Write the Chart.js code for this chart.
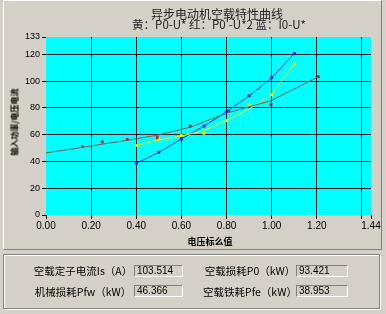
<!DOCTYPE html>
<html lang="zh">
<head>
<meta charset="UTF-8" />
<title>异步电动机空载特性曲线</title>
<script src="https://cdn.jsdelivr.net/npm/chart.js"></script>
<style>
  body { margin: 0; width: 386px; height: 314px; background: #d4d0c8; position: relative; overflow: hidden;
         font-family: "Noto Sans CJK SC", sans-serif; color: #000; }
  .abs { position: absolute; white-space: nowrap; }
  .upper { left: 3px; top: 0; width: 377px; height: 248px; border: 1px solid; border-color: #fff #808080 #808080 #fff; }
  .lower { left: 3px; top: 254px; width: 375px; height: 53px; border: 1px solid #808080; box-shadow: inset 1px 1px 0 #fff, 1px 1px 0 #fff; }
  #chart { position: absolute; left: 0; top: 0; }
  .title { left: 117px; width: 200px; top: 8px; line-height: 12px; font-size: 12px; text-align: center; color: #222; }
  .sub { left: 109px; width: 220px; top: 18px; line-height: 12px; font-size: 11.5px; text-align: center; color: #222; }
  .ytitle { left: 14px; top: 122px; font-size: 8px; font-weight: bold; transform: translate(-50%, -50%) rotate(-90deg); }
  .xtitle { left: 210px; top: 241px; font-size: 9px; font-weight: bold; transform: translate(-50%, -50%); }
  .lbl { font-size: 10.5px; line-height: 12px; text-align: center; width: 120px; }
  .box { height: 10px; border: 1px solid; border-color: #808080 #fff #fff #808080; font-family: "Liberation Sans", sans-serif;
         font-size: 10px; line-height: 10px; padding-left: 2px; }
</style>
</head>
<body>
<div class="abs upper"></div>
<canvas id="chart" width="386" height="250"></canvas>
<div class="abs title">异步电动机空载特性曲线</div>
<div class="abs sub">黄：P0-U* 红：P0'-U*2 蓝：I0-U*</div>
<div class="abs ytitle">输入功率/电压电流</div>
<div class="abs xtitle">电压标么值</div>

<div class="abs lower"></div>
<div class="abs lbl" style="left:23px;top:265px">空载定子电流Is（A）</div>
<div class="abs box" style="left:134px;top:265px;width:45px">103.514</div>
<div class="abs lbl" style="left:190px;top:265px">空载损耗P0（kW）</div>
<div class="abs box" style="left:296px;top:265px;width:48px">93.421</div>
<div class="abs lbl" style="left:23px;top:286px">机械损耗Pfw（kW）</div>
<div class="abs box" style="left:134px;top:285px;width:45px">46.366</div>
<div class="abs lbl" style="left:190px;top:286px">空载铁耗Pfe（kW）</div>
<div class="abs box" style="left:296px;top:285px;width:48px">38.953</div>

<script>
  // axis ticks
  const xTicks = [0, 0.2, 0.4, 0.6, 0.8, 1.0, 1.2, 1.4, 1.44];
  const xTickLabels = ["0.00", "0.20", "0.40", "0.60", "0.80", "1.00", "1.20", "", "1.44"];
  const yTicks = [0, 20, 40, 60, 80, 100, 120, 133];

  // 红: P0'-U*2 (measured points + fitted line)
  const uRed = [0.161, 0.249, 0.36, 0.493, 0.639, 0.809, 0.997, 1.207];
  const p0Red = [51.1, 54.6, 56.4, 57.9, 66.4, 77.6, 82.6, 103.3];
  const uRedFit = [0, 0.161, 0.249, 0.36, 0.493, 0.639, 0.809, 0.997, 1.207];
  const p0RedFit = [46.4, 50.5, 52.9, 55.8, 59.6, 65.6, 76.6, 85.4, 103.3];

  // 黄: P0-U*
  const uYellow = [0.40, 0.50, 0.60, 0.70, 0.80, 0.90, 1.00, 1.10];
  const p0Yellow = [51.9, 56.8, 59.4, 61.0, 70.4, 82.2, 89.8, 113.0];
  const p0YellowFit = [51.9, 56.0, 59.2, 63.3, 71.0, 79.2, 91.0, 113.0];

  // 蓝: I0-U*
  const uBlue = [0.40, 0.50, 0.60, 0.70, 0.80, 0.90, 1.00, 1.10];
  const i0Blue = [38.7, 46.9, 56.9, 66.5, 77.3, 89.1, 102.8, 120.7];

  const pts = (xs, ys) => xs.map((x, i) => ({ x: x, y: ys[i] }));

  const plotBg = {
    id: "plotBg",
    beforeDraw(c) {
      const a = c.chartArea, g = c.ctx;
      g.save();
      g.fillStyle = "#00ffff";
      g.fillRect(a.left, a.top, a.right - a.left, a.bottom - a.top);
      g.restore();
    }
  };

  const lineSet = (data, color, tension) => ({
    data: data, showLine: true, borderColor: color, borderWidth: 1,
    pointRadius: 0, tension: tension, fill: false
  });
  const markSet = (data, color) => ({
    data: data, showLine: false, pointStyle: "rect", pointRadius: 2,
    backgroundColor: color, borderColor: color, borderWidth: 0
  });

  const gridColor = (max) => (ctx) =>
    (ctx.tick && (ctx.tick.value === 0 || ctx.tick.value === max)) ? "rgba(0,0,0,0)" : "#0a1a1a";

  new Chart(document.getElementById("chart"), {
    type: "scatter",
    data: {
      datasets: [
        lineSet(pts(uRedFit, p0RedFit), "#7a5858", 0),
        lineSet(pts(uYellow, p0YellowFit), "#f0f020", 0.3),
        lineSet(pts(uBlue, i0Blue), "#1030f0", 0.3),
        markSet(pts(uRed, p0Red), "#e01010"),
        markSet(pts(uYellow, p0Yellow), "#f0f000"),
        markSet(pts(uBlue, i0Blue), "#0010e0")
      ]
    },
    options: {
      responsive: false,
      animation: false,
      layout: { padding: { left: 0, right: 15, top: 37, bottom: 0 } },
      plugins: { legend: { display: false }, tooltip: { enabled: false } },
      scales: {
        x: {
          type: "linear", min: 0, max: 1.44,
          afterBuildTicks: (s) => { s.ticks = xTicks.map((v) => ({ value: v })); },
          afterFit: (s) => { s.height = 35; },
          ticks: {
            callback: (v, i) => xTickLabels[i],
            autoSkip: false, maxRotation: 0, padding: 1, color: "#000",
            font: { family: "Liberation Sans", size: 10 }
          },
          grid: { color: gridColor(1.44), tickColor: "#000", tickLength: 4 },
          border: { display: false }
        },
        y: {
          type: "linear", min: 0, max: 133,
          afterBuildTicks: (s) => { s.ticks = yTicks.map((v) => ({ value: v })); },
          afterFit: (s) => { s.width = 46; },
          ticks: {
            autoSkip: false, padding: 2, color: "#000",
            font: { family: "Liberation Sans", size: 9 }
          },
          grid: { color: gridColor(133), tickColor: "#000", tickLength: 4 },
          border: { display: false }
        }
      }
    },
    plugins: [plotBg]
  });
</script>
</body>
</html>
